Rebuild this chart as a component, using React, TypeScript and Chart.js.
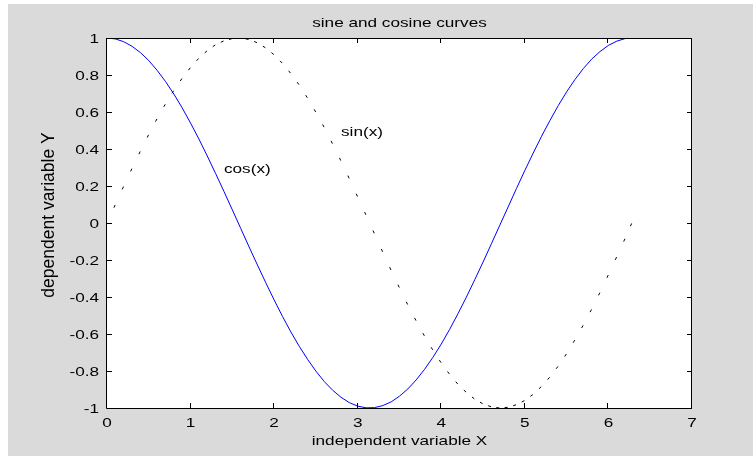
import React, { useEffect, useRef } from "react";
import { Chart, registerables } from "chart.js";

Chart.register(...registerables);

// ---- data ----
const xValues = [
  0, 0.1, 0.2, 0.3, 0.4, 0.5, 0.6, 0.7, 0.8, 0.9,
  1.0, 1.1, 1.2, 1.3, 1.4, 1.5, 1.6, 1.7, 1.8, 1.9,
  2.0, 2.1, 2.2, 2.3, 2.4, 2.5, 2.6, 2.7, 2.8, 2.9,
  3.0, 3.1, 3.2, 3.3, 3.4, 3.5, 3.6, 3.7, 3.8, 3.9,
  4.0, 4.1, 4.2, 4.3, 4.4, 4.5, 4.6, 4.7, 4.8, 4.9,
  5.0, 5.1, 5.2, 5.3, 5.4, 5.5, 5.6, 5.7, 5.8, 5.9,
  6.0, 6.1, 6.2, 6.28,
];

const sinValues = [
  0.0, 0.1, 0.199, 0.296, 0.389, 0.479, 0.565, 0.644, 0.717, 0.783,
  0.841, 0.891, 0.932, 0.964, 0.985, 0.997, 1.0, 0.992, 0.974, 0.946,
  0.909, 0.863, 0.808, 0.746, 0.675, 0.598, 0.516, 0.427, 0.335, 0.239,
  0.141, 0.042, -0.058, -0.158, -0.256, -0.351, -0.443, -0.53, -0.612, -0.688,
  -0.757, -0.818, -0.872, -0.916, -0.952, -0.978, -0.994, -1.0, -0.996, -0.982,
  -0.959, -0.926, -0.883, -0.832, -0.773, -0.706, -0.631, -0.551, -0.465, -0.374,
  -0.279, -0.182, -0.083, 0.0,
];

const cosValues = [
  1.0, 0.995, 0.98, 0.955, 0.921, 0.878, 0.825, 0.765, 0.697, 0.622,
  0.54, 0.454, 0.362, 0.267, 0.17, 0.071, -0.029, -0.129, -0.227, -0.323,
  -0.416, -0.505, -0.589, -0.666, -0.737, -0.801, -0.857, -0.904, -0.942, -0.971,
  -0.99, -0.999, -0.998, -0.987, -0.967, -0.936, -0.897, -0.848, -0.791, -0.726,
  -0.654, -0.575, -0.49, -0.401, -0.307, -0.211, -0.112, -0.012, 0.087, 0.187,
  0.284, 0.378, 0.469, 0.554, 0.635, 0.709, 0.776, 0.835, 0.886, 0.927,
  0.96, 0.983, 0.997, 1.0,
];

const xTickValues = [0, 1, 2, 3, 4, 5, 6, 7];
const yTickValues = [-1, -0.8, -0.6, -0.4, -0.2, 0, 0.2, 0.4, 0.6, 0.8, 1];

const titleText = "sine and cosine curves";
const xLabelText = "independent variable X";
const yLabelText = "dependent variable Y";

const annotationTexts = ["sin(x)", "cos(x)"];
const annotationX = [2.8, 1.4];
const annotationY = [0.5, 0.3];

// ---- styling ----
const FONT = "'Liberation Sans', Arial, sans-serif";
const STRETCH = 1.32;
const GRAY = "rgb(218,218,218)";

function fmt(v: number): string {
  return String(parseFloat(v.toFixed(1)));
}

function drawStretched(
  ctx: CanvasRenderingContext2D,
  text: string,
  x: number,
  y: number,
  size: number,
  align: CanvasTextAlign
) {
  ctx.save();
  ctx.translate(x, y);
  ctx.scale(STRETCH, 1);
  ctx.font = `${size}px ${FONT}`;
  ctx.textAlign = align;
  ctx.textBaseline = "alphabetic";
  ctx.fillStyle = "#000";
  ctx.fillText(text, 0, 0);
  ctx.restore();
}

const figurePlugin = {
  id: "figurePlugin",
  beforeDraw(chart: any) {
    const { ctx, chartArea } = chart;
    ctx.save();
    ctx.fillStyle = "#fff";
    ctx.fillRect(0, 0, chart.width, chart.height);
    ctx.fillStyle = GRAY;
    ctx.fillRect(8, 4, chart.width - 8, chart.height - 4);
    ctx.fillStyle = "#fff";
    ctx.fillRect(
      chartArea.left,
      chartArea.top,
      chartArea.right - chartArea.left,
      chartArea.bottom - chartArea.top
    );
    ctx.restore();
  },
  afterDraw(chart: any) {
    const { ctx, chartArea } = chart;
    const xs = chart.scales.x;
    const ys = chart.scales.y;
    const L = chartArea.left,
      R = chartArea.right,
      T = chartArea.top,
      B = chartArea.bottom;
    const tickLen = 5;
    ctx.save();
    ctx.strokeStyle = "#000";
    ctx.lineWidth = 1;
    ctx.beginPath();
    ctx.rect(L - 0.5, T + 0.5, R - L, B - T);
    ctx.stroke();

    ctx.beginPath();
    xs.ticks.forEach((t: any) => {
      const px = Math.round(xs.getPixelForValue(t.value)) - 0.5;
      ctx.moveTo(px, B);
      ctx.lineTo(px, B - tickLen);
      ctx.moveTo(px, T);
      ctx.lineTo(px, T + tickLen);
    });
    ys.ticks.forEach((t: any) => {
      const py = Math.round(ys.getPixelForValue(t.value)) + 0.5;
      ctx.moveTo(L, py);
      ctx.lineTo(L + tickLen, py);
      ctx.moveTo(R, py);
      ctx.lineTo(R - tickLen, py);
    });
    ctx.stroke();
    ctx.restore();

    // tick labels
    xs.ticks.forEach((t: any) => {
      const px = xs.getPixelForValue(t.value);
      drawStretched(ctx, fmt(t.value), px, B + 19, 13, "center");
    });
    ys.ticks.forEach((t: any) => {
      const py = ys.getPixelForValue(t.value);
      drawStretched(ctx, fmt(t.value), L - 8, py + 5, 13, "right");
    });

    // title and axis labels
    const cx = (L + R) / 2;
    drawStretched(ctx, titleText, cx, 27, 13, "center");
    drawStretched(ctx, xLabelText, cx, 445, 13, "center");

    ctx.save();
    ctx.translate(54, 215);
    ctx.rotate(-Math.PI / 2);
    ctx.font = `17.5px ${FONT}`;
    ctx.textAlign = "center";
    ctx.textBaseline = "alphabetic";
    ctx.fillStyle = "#000";
    ctx.fillText(yLabelText, 0, 0);
    ctx.restore();

    // curve annotations
    annotationTexts.forEach((txt, i) => {
      const px = xs.getPixelForValue(annotationX[i]);
      const py = ys.getPixelForValue(annotationY[i]);
      drawStretched(ctx, txt, px, py + 5.6, 13, "left");
    });
  },
};

export default function App() {
  const canvasRef = useRef<HTMLCanvasElement | null>(null);

  useEffect(() => {
    document.body.style.margin = "0";
    const canvas = canvasRef.current;
    if (!canvas) return;

    const cosData = xValues.map((x, i) => ({ x, y: cosValues[i] }));
    const sinData = xValues.map((x, i) => ({ x, y: sinValues[i] }));

    const chart = new Chart(canvas, {
      type: "line",
      data: {
        datasets: [
          {
            label: "cos(x)",
            data: cosData,
            borderColor: "rgb(0,0,255)",
            borderWidth: 1,
            pointRadius: 0,
            fill: false,
            tension: 0,
          },
          {
            label: "sin(x)",
            data: sinData,
            borderColor: "#000",
            borderWidth: 1,
            pointRadius: 0,
            fill: false,
            tension: 0,
            borderDash: [3, 1000],
            segment: {
              borderDash: () => [3, 1000],
              borderDashOffset: (c: any) => {
                const p0 = c.p0;
                const p1 = c.p1;
                const len = Math.hypot(p1.x - p0.x, p1.y - p0.y);
                return -Math.max(len - 3.5, 0) - (c.p0DataIndex % 2) * 0.001;
              },
            },
          } as any,
        ],
      },
      options: {
        animation: false,
        responsive: false,
        devicePixelRatio: 1,
        layout: { padding: { left: 107, right: 61, top: 38, bottom: 48 } },
        plugins: {
          legend: { display: false },
          title: { display: false },
          tooltip: { enabled: false },
        },
        events: [],
        scales: {
          x: {
            type: "linear",
            min: 0,
            max: 7,
            ticks: { display: false },
            grid: { display: false, drawTicks: false },
            border: { display: false },
            afterBuildTicks: (scale: any) => {
              scale.ticks = xTickValues.map((v) => ({ value: v }));
            },
            afterFit: (scale: any) => {
              scale.height = 0;
            },
          },
          y: {
            type: "linear",
            min: -1,
            max: 1,
            ticks: { display: false },
            grid: { display: false, drawTicks: false },
            border: { display: false },
            afterBuildTicks: (scale: any) => {
              scale.ticks = yTickValues.map((v) => ({ value: v }));
            },
            afterFit: (scale: any) => {
              scale.width = 0;
            },
          },
        },
      },
      plugins: [figurePlugin],
    });

    return () => {
      chart.destroy();
    };
  }, []);

  return (
    <div style={{ width: 753, height: 456 }}>
      <canvas
        ref={canvasRef}
        width={753}
        height={456}
        style={{ display: "block", width: 753, height: 456 }}
      />
    </div>
  );
}
